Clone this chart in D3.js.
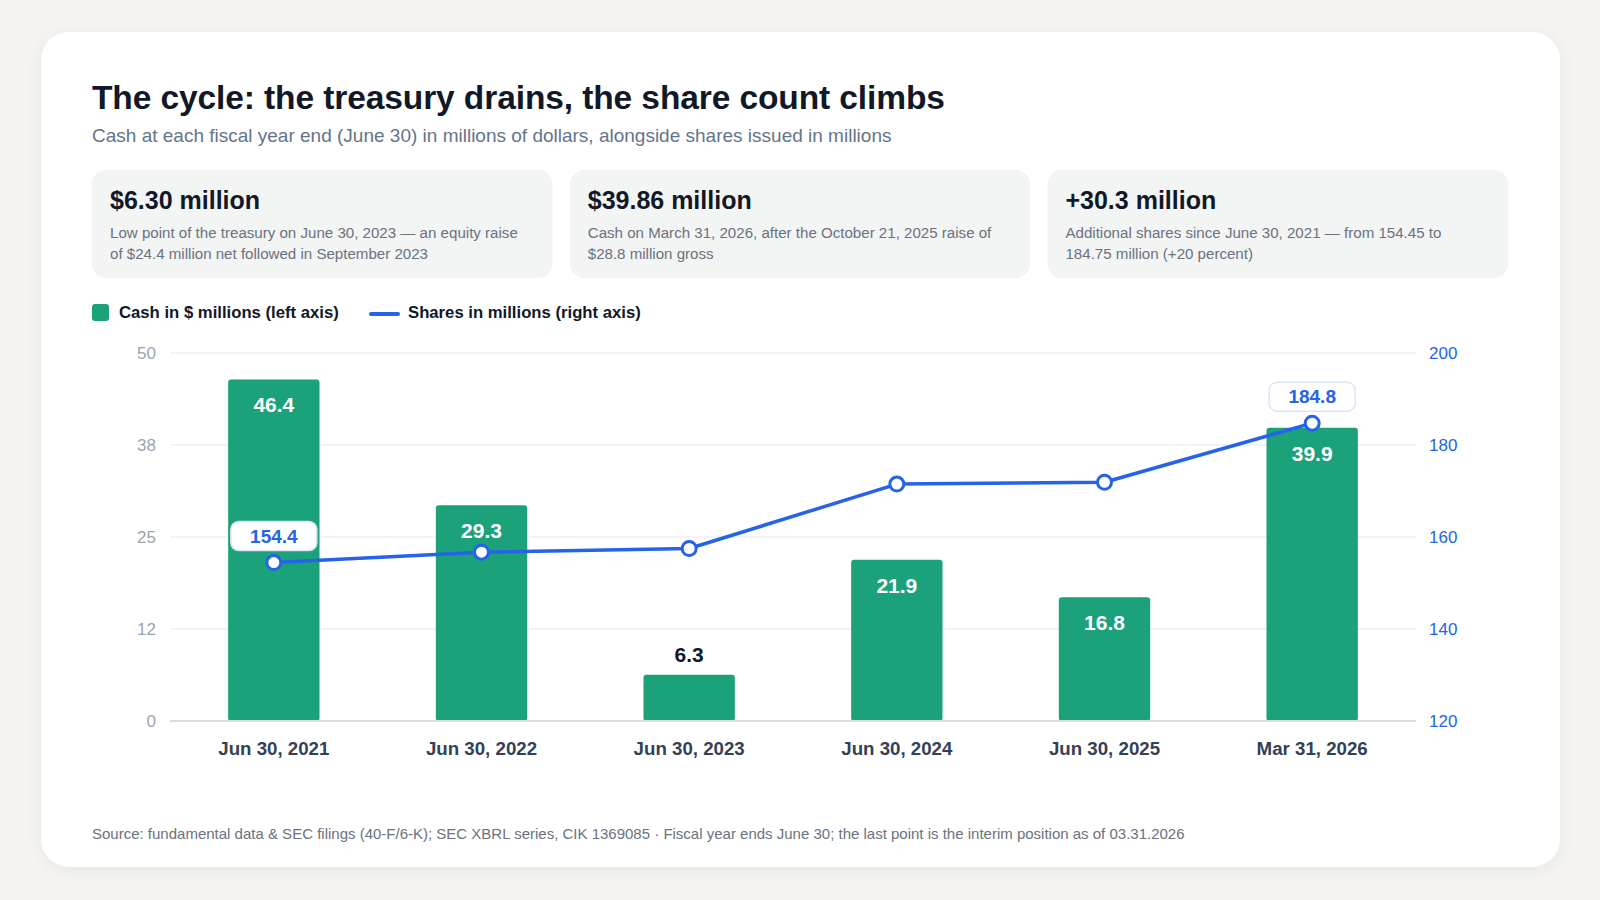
<!DOCTYPE html>
<html>
<head>
<meta charset="utf-8">
<script src="https://cdn.jsdelivr.net/npm/d3@7"></script>
<style>
  body { margin: 0; background: #f5f4f0; font-family: "Helvetica Neue", Helvetica, Arial, "Liberation Sans", sans-serif; }
  svg { display: block; }
</style>
</head>
<body>
<svg id="chart" width="1600" height="900"></svg>
<script>
// Datos del gráfico
const categories = ["Jun 30, 2021", "Jun 30, 2022", "Jun 30, 2023", "Jun 30, 2024", "Jun 30, 2025", "Mar 31, 2026"];
const cashValues = [46.4, 29.3, 6.3, 21.9, 16.8, 39.86];
const shareValues = [154.45, 156.7, 157.5, 171.5, 171.9, 184.75];
const cashTicks = [0, 12.5, 25, 37.5, 50];
const cashTickLabels = ["0", "12", "25", "38", "50"];
const shareTicks = [120, 140, 160, 180, 200];
const shareTickLabels = ["120", "140", "160", "180", "200"];
const labelledShares = [0, 5];

const cardTitles = ["$6.30 million", "$39.86 million", "+30.3 million"];
const cardLines = [
    ["Low point of the treasury on June 30, 2023 \u2014 an equity raise", "of $24.4 million net followed in September 2023"],
    ["Cash on March 31, 2026, after the October 21, 2025 raise of", "$28.8 million gross"],
    ["Additional shares since June 30, 2021 \u2014 from 154.45 to", "184.75 million (+20 percent)"]
];

const green = "#1ba27a";
const blue = "#2563eb";

const svg = d3.select("#chart");

// Tarjeta de fondo
const defs = svg.append("defs");
const shadow = defs.append("filter").attr("id", "shadow").attr("x", "-5%").attr("y", "-5%").attr("width", "110%").attr("height", "115%");
shadow.append("feDropShadow").attr("dx", 0).attr("dy", 3).attr("stdDeviation", 8).attr("flood-color", "#000").attr("flood-opacity", 0.06);

svg.append("rect")
    .attr("x", 41).attr("y", 32).attr("width", 1519).attr("height", 835)
    .attr("rx", 28).attr("fill", "#fff").attr("filter", "url(#shadow)");

// Título y subtítulo
svg.append("text")
    .attr("x", 92).attr("y", 109)
    .attr("font-size", 33.5).attr("font-weight", 700).attr("fill", "#111827")
    .attr("letter-spacing", "-0.1")
    .text("The cycle: the treasury drains, the share count climbs");

svg.append("text")
    .attr("x", 92).attr("y", 142)
    .attr("font-size", 19).attr("fill", "#64748b")
    .text("Cash at each fiscal year end (June 30) in millions of dollars, alongside shares issued in millions");

// Tarjetas de datos clave
const cardX = d3.scaleBand().domain(d3.range(cardTitles.length)).range([92, 1508]).paddingInner(0.036);
const cards = svg.append("g").selectAll("g").data(cardTitles).join("g")
    .attr("transform", (d, i) => `translate(${cardX(i)},170)`);
cards.append("rect")
    .attr("width", cardX.bandwidth()).attr("height", 108).attr("rx", 14).attr("fill", "#f3f4f4");
cards.append("text")
    .attr("x", 18).attr("y", 39)
    .attr("font-size", 25).attr("font-weight", 700).attr("fill", "#111827")
    .text(d => d);
cards.each(function (d, i) {
    d3.select(this).selectAll("text.line").data(cardLines[i]).join("text")
        .attr("class", "line")
        .attr("x", 18).attr("y", (t, j) => 68 + j * 21)
        .attr("font-size", 15.1).attr("fill", "#6b7280")
        .text(t => t);
});

// Leyenda
const legend = svg.append("g");
legend.append("rect").attr("x", 92).attr("y", 304).attr("width", 17).attr("height", 17).attr("rx", 3).attr("fill", green);
legend.append("text").attr("x", 119).attr("y", 318)
    .attr("font-size", 16.7).attr("font-weight", 700).attr("fill", "#111827")
    .text("Cash in $ millions (left axis)");
legend.append("line").attr("x1", 371).attr("x2", 398).attr("y1", 314).attr("y2", 314)
    .attr("stroke", blue).attr("stroke-width", 4).attr("stroke-linecap", "round");
legend.append("text").attr("x", 408).attr("y", 318)
    .attr("font-size", 16.7).attr("font-weight", 700).attr("fill", "#111827")
    .text("Shares in millions (right axis)");

// Escalas
const plotLeft = 170, plotRight = 1416, plotTop = 353, plotBottom = 721;
const x = d3.scaleBand().domain(categories).range([plotLeft, plotRight]).paddingInner(0.56).paddingOuter(0.28);
const yCash = d3.scaleLinear().domain([cashTicks[0], cashTicks[cashTicks.length - 1]]).range([plotBottom, plotTop]);
const yShares = d3.scaleLinear().domain([shareTicks[0], shareTicks[shareTicks.length - 1]]).range([plotBottom, plotTop]);

// Rejilla
svg.append("g").selectAll("line").data(cashTicks.slice(1)).join("line")
    .attr("x1", plotLeft).attr("x2", plotRight)
    .attr("y1", d => yCash(d)).attr("y2", d => yCash(d))
    .attr("stroke", "#f0f1f3").attr("stroke-width", 1.5);

// Eje izquierdo
const leftAxis = svg.append("g")
    .attr("transform", `translate(${plotLeft},0)`)
    .call(d3.axisLeft(yCash).tickValues(cashTicks).tickSize(0).tickPadding(14)
        .tickFormat((d, i) => cashTickLabels[i]));
leftAxis.select(".domain").remove();
leftAxis.selectAll("text").attr("font-size", 17).attr("fill", "#9ca3af").attr("font-family", null);

// Eje derecho
const rightAxis = svg.append("g")
    .attr("transform", `translate(${plotRight},0)`)
    .call(d3.axisRight(yShares).tickValues(shareTicks).tickSize(0).tickPadding(13)
        .tickFormat((d, i) => shareTickLabels[i]));
rightAxis.select(".domain").remove();
rightAxis.selectAll("text").attr("font-size", 17).attr("fill", blue).attr("font-family", null);

// Barras
svg.append("g").selectAll("rect").data(cashValues).join("rect")
    .attr("x", (d, i) => x(categories[i]))
    .attr("y", d => yCash(d))
    .attr("width", x.bandwidth())
    .attr("height", d => plotBottom - yCash(d))
    .attr("rx", 3)
    .attr("fill", green);

// Línea base
svg.append("line")
    .attr("x1", plotLeft).attr("x2", plotRight).attr("y1", plotBottom).attr("y2", plotBottom)
    .attr("stroke", "#d9dde3").attr("stroke-width", 2);

// Etiquetas de barras
svg.append("g").selectAll("text").data(cashValues).join("text")
    .attr("x", (d, i) => x(categories[i]) + x.bandwidth() / 2)
    .attr("y", d => (plotBottom - yCash(d) < 50) ? yCash(d) - 13 : yCash(d) + 33)
    .attr("text-anchor", "middle")
    .attr("font-size", 21).attr("font-weight", 700)
    .attr("fill", d => (plotBottom - yCash(d) < 50) ? "#111827" : "#fff")
    .text(d => d.toFixed(1));

// Línea de acciones
const cx = i => x(categories[i]) + x.bandwidth() / 2;
const line = d3.line().x((d, i) => cx(i)).y(d => yShares(d));
svg.append("path").datum(shareValues)
    .attr("d", line).attr("fill", "none")
    .attr("stroke", blue).attr("stroke-width", 3.5).attr("stroke-linejoin", "round");

svg.append("g").selectAll("circle").data(shareValues).join("circle")
    .attr("cx", (d, i) => cx(i)).attr("cy", d => yShares(d)).attr("r", 7)
    .attr("fill", "#fff").attr("stroke", blue).attr("stroke-width", 3);

// Cajas de valor
const boxes = svg.append("g").selectAll("g").data(labelledShares).join("g")
    .attr("transform", i => `translate(${cx(i)},${yShares(shareValues[i]) - 12})`);
boxes.append("rect")
    .attr("x", -43).attr("y", -29).attr("width", 86).attr("height", 29).attr("rx", 8)
    .attr("fill", "#fff").attr("stroke", "#dbe4f7").attr("stroke-width", 1.5);
boxes.append("text")
    .attr("y", -8).attr("text-anchor", "middle")
    .attr("font-size", 19).attr("font-weight", 700).attr("fill", blue)
    .text(i => shareValues[i].toFixed(1));

// Eje X
svg.append("g").selectAll("text").data(categories).join("text")
    .attr("x", d => x(d) + x.bandwidth() / 2).attr("y", 755)
    .attr("text-anchor", "middle")
    .attr("font-size", 18.7).attr("font-weight", 700).attr("fill", "#334155")
    .text(d => d);

// Fuente
svg.append("text")
    .attr("x", 92).attr("y", 839)
    .attr("font-size", 15).attr("fill", "#6b7280")
    .text("Source: fundamental data & SEC filings (40-F/6-K); SEC XBRL series, CIK 1369085 \u00b7 Fiscal year ends June 30; the last point is the interim position as of 03.31.2026");
</script>
</body>
</html>
